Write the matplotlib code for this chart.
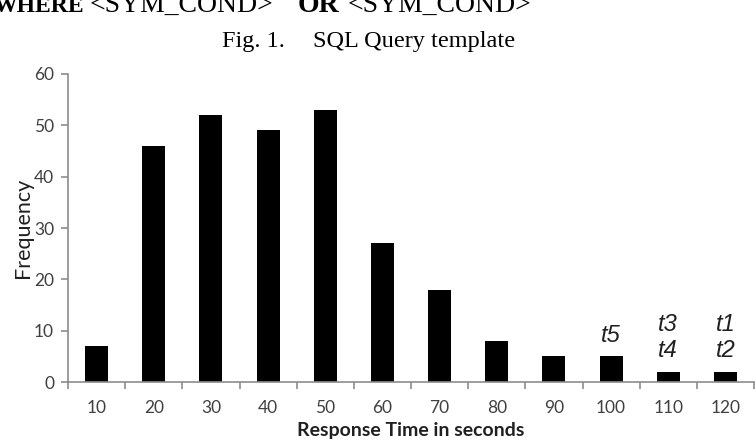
import numpy as np
import matplotlib.pyplot as plt

# response time histogram (Fig. 2 style)
bins = ['10', '20', '30', '40', '50', '60', '70', '80', '90', '100', '110', '120']
freq = [7, 46, 52, 49, 53, 27, 18, 8, 5, 5, 2, 2]
# template labels written above the last bars
tags = {9: ['t5'], 10: ['t4', 't3'], 11: ['t2', 't1']}

fig = plt.figure(figsize=(7.56, 4.44), dpi=100)
ax = fig.add_axes([68 / 756, 62 / 444, 686 / 756, 308 / 444])

x = np.arange(len(bins))
ax.bar(x, freq, width=0.4, color='black')
ax.set_xlim(-0.5, len(bins) - 0.5)
ax.set_ylim(0, 60)
ax.set_yticks(range(0, 61, 10))
ax.set_xticks(x)
ax.set_xticklabels(bins)
ax.set_xticks(np.arange(-0.5, len(bins), 1), minor=True)

gray = '#8c8c8c'
for s in ['top', 'right']:
    ax.spines[s].set_visible(False)
for s in ['left', 'bottom']:
    ax.spines[s].set_color(gray)
    ax.spines[s].set_linewidth(1.2)
ax.tick_params(axis='x', which='major', length=0, pad=13, labelsize=12.5, labelcolor='#404040')
ax.tick_params(axis='x', which='minor', length=5, color=gray, width=1.2)
ax.tick_params(axis='y', length=5, color=gray, width=1.2, labelsize=12.5, labelcolor='#404040', pad=5)
for lab in ax.get_xticklabels() + ax.get_yticklabels():
    lab.set_family('Lato')

ax.set_xlabel('Response Time in seconds', family='Lato', fontweight='bold', fontsize=14, color='#202020', labelpad=4)
ax.set_ylabel('Frequency', family='Lato', fontsize=15.5, color='#202020', labelpad=1)

for i, labels in tags.items():
    for k, t in enumerate(labels):
        ax.annotate(t, (x[i], freq[i]), xytext=(0, 15 + 19 * k), textcoords='offset points',
                    ha='center', va='center', fontsize=17, style='italic',
                    family='Liberation Sans', color='#202020')

# text from the page above the chart
fig.text(-0.008, 1 - 12 / 444, 'WHERE', family='Liberation Serif', fontweight='bold', fontsize=17, va='baseline')
fig.text(90 / 756, 1 - 12 / 444, '<SYM_COND>', family='Liberation Serif', fontsize=20, va='baseline')
fig.text(298 / 756, 1 - 12 / 444, 'OR', family='Liberation Serif', fontweight='bold', fontsize=20, va='baseline')
fig.text(348 / 756, 1 - 12 / 444, '<SYM_COND>', family='Liberation Serif', fontsize=20, va='baseline')
fig.text(222 / 756, 1 - 47 / 444, 'Fig. 1.', family='Liberation Serif', fontsize=17.5, va='baseline')
fig.text(313 / 756, 1 - 47 / 444, 'SQL Query template', family='Liberation Serif', fontsize=17.5, va='baseline')

fig.savefig('out.png', dpi=100)
